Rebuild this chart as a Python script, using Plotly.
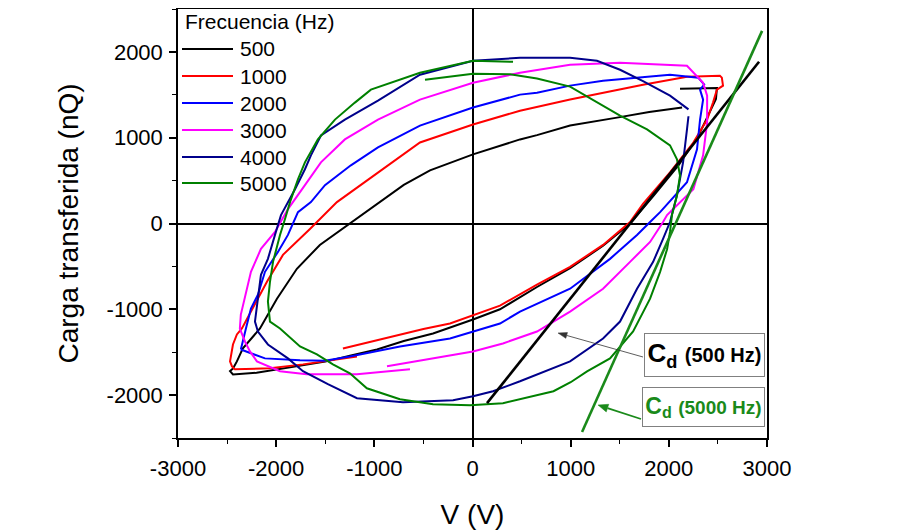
import math
import plotly.graph_objects as go

# ---------------- data ----------------
freqs = ["500", "1000", "2000", "3000", "4000", "5000"]
colors = ["#000000", "#ff0000", "#0000ff", "#ff00ff", "#00008b", "#008000"]

x_tickvals = [-3000, -2000, -1000, 0, 1000, 2000, 3000]
x_ticktext = ["-3000", "-2000", "-1000", "0", "1000", "2000", "3000"]
y_tickvals = [-2000, -1000, 0, 1000, 2000]
y_ticktext = ["-2000", "-1000", "0", "1000", "2000"]

v_500 = [2135, 1800, 1472, 994, 657, 484, 5, -433, -700, -943, -1100, -1249, -1555, -1789, -1992, -2165,
         -2339, -2400, -2440, -2470, -2440, -2200, -1990, -1500, -1249, -973, -700, -402, 5, 280, 657,
         994, 1330, 1605, 1850, 2100, 2300, 2420, 2480, 2490, 2300, 2114]
q_500 = [1351, 1300, 1234, 1141, 1030, 980, 806, 620, 450, 249, 120, -6, -250, -528, -876, -1224,
         -1456, -1607, -1690, -1720, -1760, -1740, -1700, -1610, -1540, -1468, -1370, -1282, -1119, -1000, -740,
         -520, -260, 0, 330, 680, 1020, 1300, 1450, 1580, 1575, 1570]

v_1000 = [-1320, -1000, -739, -500, -229, 5, 280, 657, 994, 1330, 1605, 1737, 2012, 2250, 2390, 2450,
          2490, 2552, 2540, 2520, 2185, 1737, 994, 484, 5, -535, -912, -1150, -1381, -1656, -1931, -2094,
          -2237, -2349, -2400, -2440, -2470, -2450, -2420, -2063, -1727, -1177]
q_1000 = [-1456, -1370, -1293, -1230, -1166, -1073, -957, -713, -505, -250, 17, 230, 597, 944, 1211, 1409,
          1560, 1606, 1700, 1722, 1711, 1618, 1444, 1315, 1154, 944, 632, 430, 249, -64, -366, -679,
          -992, -1224, -1293, -1410, -1607, -1665, -1700, -1688, -1642, -1549]

v_2000 = [-2360, -2114, -1757, -1503, -1249, -739, -229, 5, 280, 484, 994, 1401, 1676, 1809, 1911, 2185,
          2287, 2318, 2349, 2318, 2360, 2300, 2012, 1330, 994, 657, 484, 5, -535, -963, -1239, -1503,
          -1646, -1778, -1880, -1982, -2114, -2186, -2257, -2308, -2339, -2360]
q_2000 = [-1468, -1572, -1595, -1600, -1549, -1433, -1340, -1258, -1166, -1027, -760, -412, -133, 17, 133, 481,
          864, 1211, 1444, 1560, 1620, 1700, 1734, 1664, 1607, 1525, 1502, 1351, 1141, 886, 678, 447,
          249, 133, -133, -331, -563, -830, -992, -1224, -1375, -1468]

v_3000 = [-871, -402, 5, 310, 657, 994, 1330, 1605, 1809, 1941, 1982, 2250, 2349, 2390, 2390, 2349,
          2250, 2185, 1503, 994, 484, 5, -535, -963, -1300, -1544, -1707, -1880, -2012, -2155, -2257,
          -2308, -2360, -2370, -2318, -2267, -2196, -1961, -1690, -1177, -637]
q_3000 = [-1665, -1572, -1491, -1398, -1259, -1027, -760, -447, -215, 17, 98, 400, 794, 1177, 1490, 1641,
          1760, 1838, 1873, 1850, 1757, 1641, 1444, 1211, 980, 713, 447, 168, -99, -296, -563,
          -830, -1062, -1224, -1375, -1491, -1607, -1722, -1757, -1757, -1699]

v_4000 = [2200, 2012, 1737, 1503, 1268, 994, 484, 5, -535, -963, -1300, -1544, -1646, -1707, -1808, -1951,
          -2012, -2084, -2155, -2186, -2216, -2186, -2084, -1880, -1727, -1473, -1177, -708, -402, -198, 5,
          209, 484, 994, 1330, 1503, 1676, 1840, 1941, 2012, 2083, 2145, 2185, 2200]
q_4000 = [1330, 1490, 1660, 1792, 1896, 1931, 1931, 1896, 1734, 1432, 1211, 1026, 794, 632, 400, 98,
          -133, -412, -598, -910, -1143, -1259, -1410, -1572, -1722, -1873, -2036, -2082, -2071, -2060, -2013,
          -1955, -1839, -1607, -1340, -1143, -760, -447, -180, 17, 330, 713, 1096, 1250]

v_5000 = [-484, 5, 382, 657, 994, 1268, 1503, 1778, 2012, 2083, 2114, 2083, 2032, 2012, 1982, 1911,
          1809, 1636, 1401, 1167, 1000, 825, 310, -25, -402, -739, -1076, -1249, -1422, -1585, -1757,
          -1961, -2063, -2084, -2063, -2032, -1961, -1910, -1859, -1778, -1707, -1575, -1401, -1198, -1035,
          -535, 5, 413]
q_5000 = [1676, 1746, 1740, 1690, 1595, 1409, 1258, 1096, 910, 748, 560, 330, 98, -99, -300, -563,
          -876, -1259, -1572, -1723, -1850, -1955, -2094, -2117, -2106, -2048, -1920, -1746, -1642, -1525, -1433,
          -1224, -1143, -910, -679, -447, -133, 52, 249, 516, 713, 980, 1211, 1409, 1560,
          1757, 1896, 1885]

series_v = [v_500, v_1000, v_2000, v_3000, v_4000, v_5000]
series_q = [q_500, q_1000, q_2000, q_3000, q_4000, q_5000]

# dielectric-capacitance fit lines (endpoints)
cd500_v = [148, 2919]
cd500_q = [-2094, 1885]
cd5000_v = [1116, 2950]
cd5000_q = [-2430, 2245]

FONT = "Liberation Sans, Arial, sans-serif"
GREEN_TXT = "#1a8a1a"

# ---------------- geometry (page pixels; the page body has an 8px margin) ----------------
W, H = 901, 522
ML, MR, MT, MB = 170, 142, 1, 92
PX0, PX1 = 8 + ML, 8 + W - MR          # plot left/right in page px
PY0, PY1 = 8 + MT, 8 + H - MB          # plot top/bottom in page px

def px2paper(px, py):
    return (px - PX0) / (PX1 - PX0), (PY1 - py) / (PY1 - PY0)

fig = go.Figure()
for f, c, vv, qq in zip(freqs, colors, series_v, series_q):
    fig.add_trace(go.Scatter(x=vv, y=qq, mode="lines", name=f,
                             line=dict(color=c, width=2), showlegend=False))

fig.add_trace(go.Scatter(x=cd500_v, y=cd500_q, mode="lines", line=dict(color="#000000", width=2.6),
                         showlegend=False))
fig.add_trace(go.Scatter(x=cd5000_v, y=cd5000_q, mode="lines", line=dict(color=GREEN_TXT, width=2.6),
                         showlegend=False))

ann = []
shapes = []

# ------------- custom legend -------------
tx, ty = px2paper(183, 22)
ann.append(dict(x=tx, y=ty, xref="paper", yref="paper", text="Frecuencia (Hz)", showarrow=False,
                xanchor="left", yanchor="middle", font=dict(size=21, color="black", family=FONT)))
leg_y = [49, 76, 103, 130, 157, 183]
for f, c, py in zip(freqs, colors, leg_y):
    lx0, ly = px2paper(182, py)
    lx1, _ = px2paper(233, py)
    shapes.append(dict(type="line", xref="paper", yref="paper", x0=lx0, x1=lx1, y0=ly, y1=ly,
                       line=dict(color=c, width=2)))
    lt, _ = px2paper(238, py)
    ann.append(dict(x=lt, y=ly, xref="paper", yref="paper", text=f, showarrow=False,
                    xanchor="left", yanchor="middle", font=dict(size=21, color="black", family=FONT)))

# ------------- Cd boxes -------------
bx, by = px2paper(704.5, 355)
ann.append(dict(x=bx, y=by, xref="paper", yref="paper", showarrow=False,
                xanchor="center", yanchor="middle",
                text="<b>C<sub>d</sub> <span style='font-size:20px'>(500 Hz)</span></b>",
                font=dict(size=26, color="black", family=FONT),
                bgcolor="white", bordercolor="#808080", borderwidth=1, borderpad=1,
                width=117, height=40, align="center"))
gx, gy = px2paper(703.5, 407)
ann.append(dict(x=gx, y=gy, xref="paper", yref="paper", showarrow=False,
                xanchor="center", yanchor="middle",
                text="<b>C<sub>d</sub> <span style='font-size:19px'>(5000 Hz)</span></b>",
                font=dict(size=23, color=GREEN_TXT, family=FONT),
                bgcolor="white", bordercolor="#808080", borderwidth=1, borderpad=1,
                width=119, height=36, align="center"))

# ------------- arrows drawn as shapes -------------
def arrow(tail, head, color, width, head_len, head_half):
    (tx_, ty_), (hx, hy) = tail, head
    d = math.hypot(hx - tx_, hy - ty_)
    ux, uy = (hx - tx_) / d, (hy - ty_) / d
    nx, ny = -uy, ux
    bx_, by_ = hx - ux * head_len, hy - uy * head_len
    a = px2paper(tx_, ty_)
    b = px2paper(bx_, by_)
    shapes.append(dict(type="line", xref="paper", yref="paper", x0=a[0], y0=a[1], x1=b[0], y1=b[1],
                       line=dict(color=color, width=width)))
    p1 = px2paper(hx, hy)
    p2 = px2paper(bx_ + nx * head_half, by_ + ny * head_half)
    p3 = px2paper(bx_ - nx * head_half, by_ - ny * head_half)
    path = f"M{p1[0]},{p1[1]} L{p2[0]},{p2[1]} L{p3[0]},{p3[1]} Z"
    shapes.append(dict(type="path", xref="paper", yref="paper", path=path,
                       fillcolor=color, line=dict(color=color, width=0.5)))

arrow((643, 357), (558, 333), "#333333", 0.8, 9, 3)
arrow((641, 419), (598, 405), GREEN_TXT, 1.8, 10, 4)

axis_common = dict(showline=True, linecolor="black", linewidth=1.5, mirror=True,
                   ticks="outside", ticklen=7, tickwidth=1.5, tickcolor="black",
                   showgrid=False, zeroline=True, zerolinecolor="black", zerolinewidth=1.6,
                   automargin=False,
                   tickfont=dict(size=22, color="black", family=FONT),
                   minor=dict(ticks="outside", ticklen=4, tickwidth=1.2, tickcolor="black", dtick=500))

fig.update_layout(
    width=W, height=H,
    margin=dict(l=ML, r=MR, t=MT, b=MB),
    paper_bgcolor="white", plot_bgcolor="white",
    font=dict(family=FONT, color="black"),
    xaxis=dict(range=[-3000, 3000], tickmode="array", tickvals=x_tickvals, ticktext=x_ticktext,
               ticklabelstandoff=3,
               title=dict(text="V (V)", font=dict(size=28, color="black", family=FONT), standoff=24),
               **axis_common),
    yaxis=dict(range=[-2500, 2500], tickmode="array", tickvals=y_tickvals, ticktext=y_ticktext,
               ticklabelstandoff=2,
               title=dict(text="Carga transferida (nQ)", font=dict(size=28, color="black", family=FONT), standoff=20),
               **axis_common),
    annotations=ann, shapes=shapes,
)

fig.write_html("out.html")
